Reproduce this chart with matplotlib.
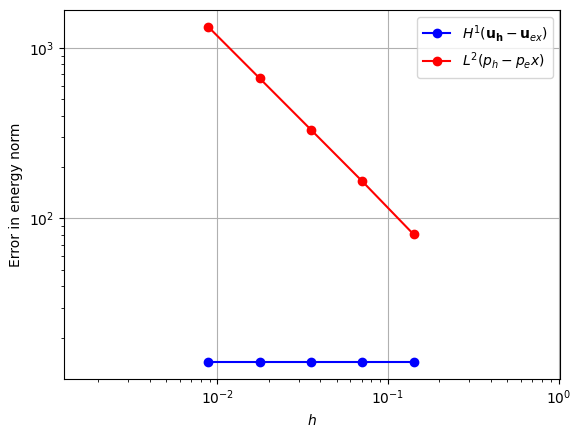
import matplotlib
matplotlib.use('Agg')
import matplotlib.pyplot as plt
import numpy as np

h = [0.00884, 0.01768, 0.03536, 0.07071, 0.14142]
err_u = [14.4, 14.4, 14.4, 14.4, 14.4]
err_p = [1327, 663, 331, 165, 80.6]

fig = plt.figure(figsize=(5.81, 4.38), dpi=100)
ax = fig.add_subplot(111)
fig.subplots_adjust(left=0.110, right=0.964, top=0.977, bottom=0.135)

ax.loglog(h, err_u, 'o-', color='blue', label=r'$H^1(\mathbf{u_h}-\mathbf{u}_{ex})$')
ax.loglog(h, err_p, 'o-', color='red', label=r'$L^2(p_h - p_e x)$')

ax.set_xlim(1.26e-3, 1.02)
ax.set_xlabel(r'$h$')
ax.set_ylabel('Error in energy norm')
ax.grid(True)
ax.legend(loc='upper right')

plt.savefig('out.png', dpi=100)
